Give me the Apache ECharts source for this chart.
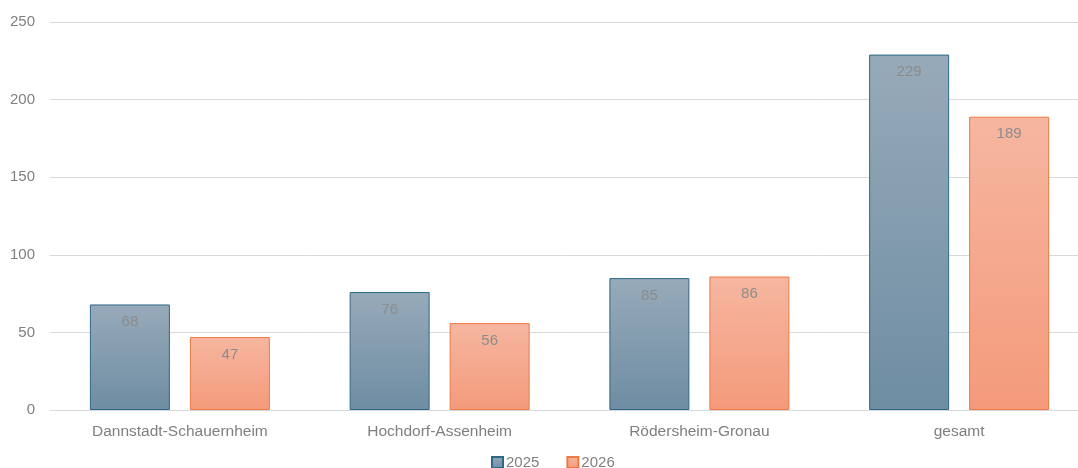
<!DOCTYPE html>
<html><head><meta charset="utf-8">
<script src="https://cdn.jsdelivr.net/npm/echarts@6/dist/echarts.min.js"></script>
<style>html,body{margin:0;padding:0;background:#fff}#c{width:1078px;height:468px}</style>
</head><body><div id="c"></div>
<script>
const categories = ['Dannstadt-Schauernheim', 'Hochdorf-Assenheim', 'Rödersheim-Gronau', 'gesamt'];
const seriesNames = ['2025', '2026'];
const values2025 = [68, 76, 85, 229];
const values2026 = [47, 56, 86, 189];
const yTicks = [0, 50, 100, 150, 200, 250];

const font = 'Liberation Sans, Arial, sans-serif';
function grad(top, bottom) {
  return new echarts.graphic.LinearGradient(0, 0, 0, 1, [{offset: 0, color: top}, {offset: 1, color: bottom}]);
}
const chart = echarts.init(document.getElementById('c'));
chart.setOption({
  animation: false,
  textStyle: {fontFamily: font},
  grid: {left: 50, width: 1039, top: 22, bottom: 58, outerBoundsMode: 'none'},
  legend: {
    bottom: -7, left: 486, itemWidth: 11, itemHeight: 11, itemGap: 27,
    icon: 'rect',
    textStyle: {color: '#7f7f7f', fontSize: 15, fontFamily: font, padding: [0, 0, 0, -2]},
    data: seriesNames
  },
  xAxis: {
    type: 'category', data: categories,
    axisLine: {lineStyle: {color: '#d9d9d9'}},
    axisTick: {show: false},
    axisLabel: {color: '#7f7f7f', fontSize: 15.5, margin: 14}
  },
  yAxis: {
    type: 'value', min: yTicks[0], max: yTicks[yTicks.length - 1], interval: 50,
    axisLine: {show: false}, axisTick: {show: false},
    splitLine: {lineStyle: {color: '#d9d9d9'}},
    axisLabel: {color: '#7f7f7f', fontSize: 15, margin: 15}
  },
  series: [
    {
      name: seriesNames[0], type: 'bar', data: values2025, barWidth: 80, barGap: '25%',
      itemStyle: {color: grad('#97aab9', '#6e8da3'), borderColor: '#2e6888', borderWidth: 1},
      label: {show: true, position: 'insideTop', distance: 10, color: '#8c8c8c', fontSize: 15}
    },
    {
      name: seriesNames[1], type: 'bar', data: values2026, barWidth: 80,
      itemStyle: {color: grad('#f6b6a0', '#f49a7b'), borderColor: '#ec7a45', borderWidth: 1},
      label: {show: true, position: 'insideTop', distance: 10, color: '#8c8c8c', fontSize: 15}
    }
  ]
});
</script></body></html>
